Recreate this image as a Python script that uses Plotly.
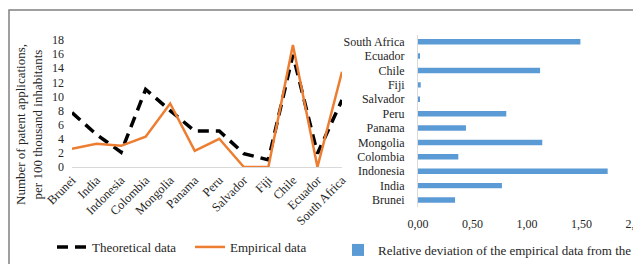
import plotly.graph_objects as go

countries = ["Brunei", "India", "Indonesia", "Colombia", "Mongolia", "Panama",
             "Peru", "Salvador", "Fiji", "Chile", "Ecuador", "South Africa"]
theoretical = [7.7, 4.6, 2.1, 11.0, 8.0, 5.1, 5.1, 1.9, 1.0, 15.9, 1.9, 9.5]
empirical = [2.6, 3.3, 3.0, 4.3, 9.0, 2.3, 4.0, 0.0, 0.0, 17.3, 0.0, 13.5]
rel_dev = [0.34, 0.77, 1.74, 0.37, 1.14, 0.44, 0.81, 0.01, 0.025, 1.12, 0.01, 1.49]

# page body has an 8px margin, so the figure is drawn offset by 8px
OFF = 8
W, H = 641 - OFF, 264 - OFF
FONT = "Liberation Serif, Times New Roman, serif"
TXT = "#262626"

fig = go.Figure()
fig.add_trace(go.Scatter(x=countries, y=theoretical, mode="lines", name="Theoretical data",
                         line=dict(color="#000000", width=3.5, dash="11px,7px"),
                         xaxis="x", yaxis="y", legend="legend"))
fig.add_trace(go.Scatter(x=countries, y=empirical, mode="lines", name="Empirical data",
                         line=dict(color="#ED7D31", width=2.5),
                         xaxis="x", yaxis="y", legend="legend"))
fig.add_trace(go.Bar(x=rel_dev, y=countries, orientation="h",
                     name="Relative deviation of the empirical data from the theoretical data",
                     marker=dict(color="#5B9BD5"), xaxis="x2", yaxis="y2", legend="legend2"))

def px(v):
    return (v - OFF) / W

def py(v):
    return (H - (v - OFF)) / H

tf = lambda s: dict(family=FONT, size=s, color=TXT)

fig.update_layout(
    template="none",
    width=W, height=H,
    margin=dict(l=0, r=0, t=0, b=0, autoexpand=False),
    paper_bgcolor="white", plot_bgcolor="white",
    separators=", ",
    font=tf(12),
    bargap=0.62,
    xaxis=dict(domain=[px(72), px(342)], type="category", tickangle=-45,
               showline=True, linecolor="#D9D9D9", linewidth=1, showgrid=False,
               ticks="", tickfont=tf(12.5), anchor="y", automargin=False, dtick=1),
    yaxis=dict(domain=[py(167), py(40)], range=[0, 18], dtick=2, showgrid=False,
               zeroline=False, showline=False, ticks="", ticklabelstandoff=7,
               tickfont=tf(12), anchor="x", automargin=False),
    xaxis2=dict(domain=[px(418), px(636)], range=[0, 2], dtick=0.5, tickformat=".2f",
                showgrid=False, zeroline=False, showline=False, ticks="",
                ticklabelstandoff=8, tickfont=tf(12), anchor="y2", automargin=False,
                ticklabeloverflow="allow"),
    yaxis2=dict(domain=[py(207.2), py(34.5)], type="category", showgrid=False,
                showline=True, linecolor="#D9D9D9", linewidth=1, ticks="",
                ticklabelstandoff=10, tickfont=tf(12), anchor="x2", automargin=False,
                dtick=1),
    legend=dict(orientation="h", x=px(52), y=py(247), xanchor="left", yanchor="middle",
                font=tf(13), bgcolor="rgba(0,0,0,0)", itemwidth=30,
                entrywidth=93),
    legend2=dict(orientation="h", x=px(338), y=py(250), xanchor="left", yanchor="middle",
                 font=tf(13), bgcolor="rgba(0,0,0,0)"),
    showlegend=True,
)

fig.add_annotation(text="Number of patent applications,<br>per 100 thousand inhabitants",
                   x=px(29), y=py(125), xref="paper", yref="paper", showarrow=False,
                   textangle=-90, font=tf(13),
                   xanchor="center", yanchor="middle")

# outer frame (left and top edges visible)
fig.add_shape(type="rect", xref="paper", yref="paper",
              x0=px(9), x1=1.5, y0=-0.5, y1=py(10),
              line=dict(color="#808080", width=1.5), fillcolor="rgba(0,0,0,0)",
              layer="above")

fig.write_html("out.html")
